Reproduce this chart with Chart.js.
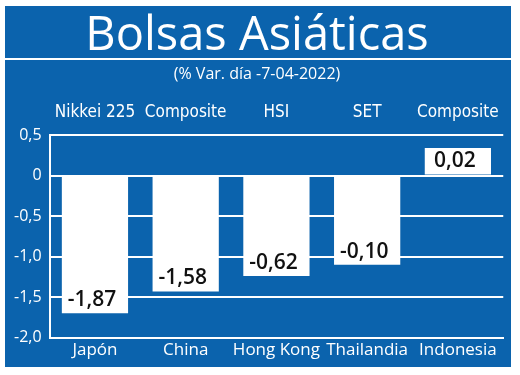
<!DOCTYPE html>
<html lang="es">
<head>
  <meta charset="UTF-8" />
  <title>Bolsas Asiáticas</title>
  <script src="https://cdn.jsdelivr.net/npm/chart.js"></script>
  <style>
    html, body { margin: 0; padding: 0; background: #fff; }
    #panel { position: absolute; left: 5px; top: 6px; width: 506px; height: 361px; background: #0b63ad; }
  </style>
</head>
<body>
  <div id="panel"><canvas id="chart" width="506" height="361"></canvas></div>

  <script>
    // data (bar lengths as drawn, labels as printed)
    const countries = ['Japón', 'China', 'Hong Kong', 'Thailandia', 'Indonesia'];
    const indexes = ['Nikkei 225', 'Composite', 'HSI', 'SET', 'Composite'];
    const barValues = [-1.70, -1.43, -1.24, -1.10, 0.34];
    const valueLabels = ['-1,87', '-1,58', '-0,62', '-0,10', '0,02'];

    const condensed = '"Liberation Sans Narrow", "DejaVu Sans Condensed", "Open Sans", sans-serif';

    // white rule under the title + value labels inside the bars
    const extras = {
      id: 'extras',
      afterDraw(chart) {
        const ctx = chart.ctx;
        ctx.save();
        ctx.strokeStyle = '#fff';
        ctx.lineWidth = 2;
        ctx.beginPath();
        ctx.moveTo(0, 53);
        ctx.lineTo(chart.width, 53);
        ctx.stroke();

        ctx.fillStyle = '#111';
        ctx.font = '600 21px "Open Sans", sans-serif';
        ctx.textAlign = 'center';
        ctx.textBaseline = 'middle';
        chart.getDatasetMeta(0).data.forEach((bar, i) => {
          const y = barValues[i] < 0 ? bar.y - 13 : (bar.y + bar.base) / 2;
          ctx.fillText(valueLabels[i], bar.x - 3, y);
        });
        ctx.restore();
      }
    };

    new Chart(document.getElementById('chart'), {
      type: 'bar',
      data: {
        labels: countries,
        datasets: [{
          data: barValues,
          backgroundColor: '#fff',
          categoryPercentage: 0.73,
          barPercentage: 1
        }]
      },
      options: {
        responsive: false,
        animation: false,
        layout: { padding: { left: 1, right: 3, top: 0, bottom: 5 } },
        plugins: {
          legend: { display: false },
          tooltip: { enabled: false },
          title: {
            display: true,
            text: 'Bolsas Asiáticas',
            color: '#fff',
            font: { family: '"Open Sans", sans-serif', size: 47, weight: 'normal' },
            padding: { top: 2, bottom: 0 }
          },
          subtitle: {
            display: true,
            text: '(% Var. día -7-04-2022)',
            color: '#fff',
            font: { family: '"Open Sans", sans-serif', size: 16 },
            padding: { top: 0, bottom: 7 }
          }
        },
        scales: {
          x: {
            grid: { display: false, drawTicks: false },
            border: { color: '#fff', width: 2 },
            ticks: { color: '#fff', font: { family: '"Open Sans", sans-serif', size: 17 }, padding: 2, maxRotation: 0 }
          },
          x2: {
            type: 'category',
            position: 'top',
            labels: indexes,
            grid: { display: false, drawTicks: false },
            border: { display: false },
            ticks: { color: '#fff', font: { family: condensed, size: 17 }, padding: 12, maxRotation: 0 }
          },
          y: {
            min: -2,
            max: 0.5,
            grid: { color: '#fff', lineWidth: 2, drawTicks: false },
            border: { color: '#fff', width: 2 },
            ticks: {
              stepSize: 0.5,
              color: '#fff',
              padding: 8,
              font: { family: '"Open Sans", sans-serif', size: 16 },
              callback: v => v === 0 ? '0' : v.toFixed(1).replace('.', ',')
            }
          }
        }
      },
      plugins: [extras]
    });
  </script>
</body>
</html>
